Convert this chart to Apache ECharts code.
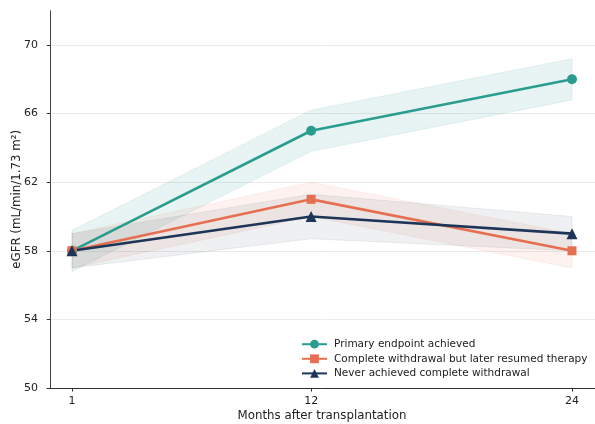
<!DOCTYPE html>
<html>
<head>
<meta charset="utf-8">
<title>eGFR after transplantation</title>
<script src="https://cdn.jsdelivr.net/npm/echarts@6/dist/echarts.min.js"></script>
<style>
  html, body { margin: 0; padding: 0; background: #ffffff; }
  #chart { width: 595px; height: 424px; }
</style>
</head>
<body>
<div id="chart"></div>
<script>
// Months after transplantation
const months = [1, 12, 24];
const xTicks = [1, 12, 24];
const yTicks = [50, 54, 58, 62, 66, 70];

// Mean eGFR per group with the shaded interval bounds
const seriesNames = [
  'Primary endpoint achieved',
  'Complete withdrawal but later resumed therapy',
  'Never achieved complete withdrawal'
];
const primaryMean = [58, 65, 68];
const primaryLow  = [56.8, 63.8, 66.8];
const primaryHigh = [59.2, 66.2, 69.2];

const resumedMean = [58, 61, 58];
const resumedLow  = [57.0, 60.0, 57.0];
const resumedHigh = [59.0, 62.0, 59.0];

const neverMean = [58, 60, 59];
const neverLow  = [57.0, 58.7, 58.0];
const neverHigh = [59.0, 61.3, 60.0];

const colors = ['#2a9d8f', '#e76f51', '#1d3557'];
const bandAlpha = [0.11, 0.09, 0.075];
const symbols = ['circle', 'rect', 'triangle'];
const symbolSizes = [10, 9, 11];

function rgba(hex, a) {
  const n = parseInt(hex.slice(1), 16);
  return 'rgba(' + (n >> 16) + ',' + ((n >> 8) & 255) + ',' + (n & 255) + ',' + a + ')';
}

function pairs(xs, ys) {
  return xs.map((x, i) => [x, ys[i]]);
}

// Shaded band drawn as one polygon through the axis scales
function bandSeries(low, high, color, alpha) {
  return {
    type: 'custom',
    silent: true,
    z: 1,
    data: months.map((m, i) => [m, low[i], high[i]]),
    encode: { x: 0, y: [1, 2] },
    renderItem: function (params, api) {
      if (params.dataIndex !== 0) return null;
      const pts = [];
      for (let i = 0; i < months.length; i++) pts.push(api.coord([months[i], high[i]]));
      for (let i = months.length - 1; i >= 0; i--) pts.push(api.coord([months[i], low[i]]));
      return {
        type: 'polygon',
        shape: { points: pts },
        style: { fill: rgba(color, alpha), stroke: rgba(color, alpha), lineWidth: 1 }
      };
    }
  };
}

function lineSeries(name, mean, idx) {
  return {
    name: name,
    type: 'line',
    z: 5,
    data: pairs(months, mean),
    symbol: symbols[idx],
    symbolSize: symbolSizes[idx],
    showAllSymbol: true,
    lineStyle: { color: colors[idx], width: 2.6 },
    itemStyle: { color: colors[idx] },
    emphasis: { disabled: true }
  };
}

const chart = echarts.init(document.getElementById('chart'), null, { renderer: 'canvas' });

const font = 'DejaVu Sans';

chart.setOption({
  animation: false,
  backgroundColor: '#ffffff',
  textStyle: { fontFamily: font },
  grid: { left: 47, top: 10.7, width: 550, bottom: 36, containLabel: false, outerBoundsMode: 'none' },
  xAxis: {
    type: 'value',
    min: -0.15,
    max: 25.15,
    name: 'Months after transplantation',
    nameLocation: 'middle',
    nameGap: 22,
    nameMoveOverlap: false,
    nameTextStyle: { fontFamily: font, fontSize: 11.8, color: '#222' },
    axisLine: { show: true, lineStyle: { color: '#333', width: 1 } },
    axisTick: { show: true, length: 3.5, lineStyle: { color: '#333' }, customValues: xTicks },
    axisLabel: { customValues: xTicks, fontFamily: font, fontSize: 11, color: '#222', margin: 8 },
    splitLine: { show: false }
  },
  yAxis: {
    type: 'value',
    min: 50,
    max: 72,
    name: 'eGFR (mL/min/1.73 m²)',
    nameLocation: 'middle',
    nameGap: 24,
    nameMoveOverlap: false,
    nameTextStyle: { fontFamily: font, fontSize: 11.8, color: '#222' },
    axisLine: { show: true, lineStyle: { color: '#444', width: 1 } },
    axisTick: { show: true, length: 3.5, lineStyle: { color: '#333' }, customValues: yTicks },
    axisLabel: { customValues: yTicks, fontFamily: font, fontSize: 11, color: '#222', margin: 9 },
    splitLine: { show: true, lineStyle: { color: '#ebebeb', width: 1 } }
  },
  legend: {
    data: seriesNames,
    orient: 'vertical',
    left: 296,
    top: 333.7,
    itemWidth: 25,
    itemHeight: 11,
    itemGap: 3.6,
    textStyle: { fontFamily: font, fontSize: 10.5, color: '#222', padding: [0, 0, 0, 2] },
    selectedMode: false
  },
  series: [
    bandSeries(primaryLow, primaryHigh, colors[0], bandAlpha[0]),
    lineSeries(seriesNames[0], primaryMean, 0),
    bandSeries(resumedLow, resumedHigh, colors[1], bandAlpha[1]),
    lineSeries(seriesNames[1], resumedMean, 1),
    bandSeries(neverLow, neverHigh, colors[2], bandAlpha[2]),
    lineSeries(seriesNames[2], neverMean, 2)
  ]
});
</script>
</body>
</html>
